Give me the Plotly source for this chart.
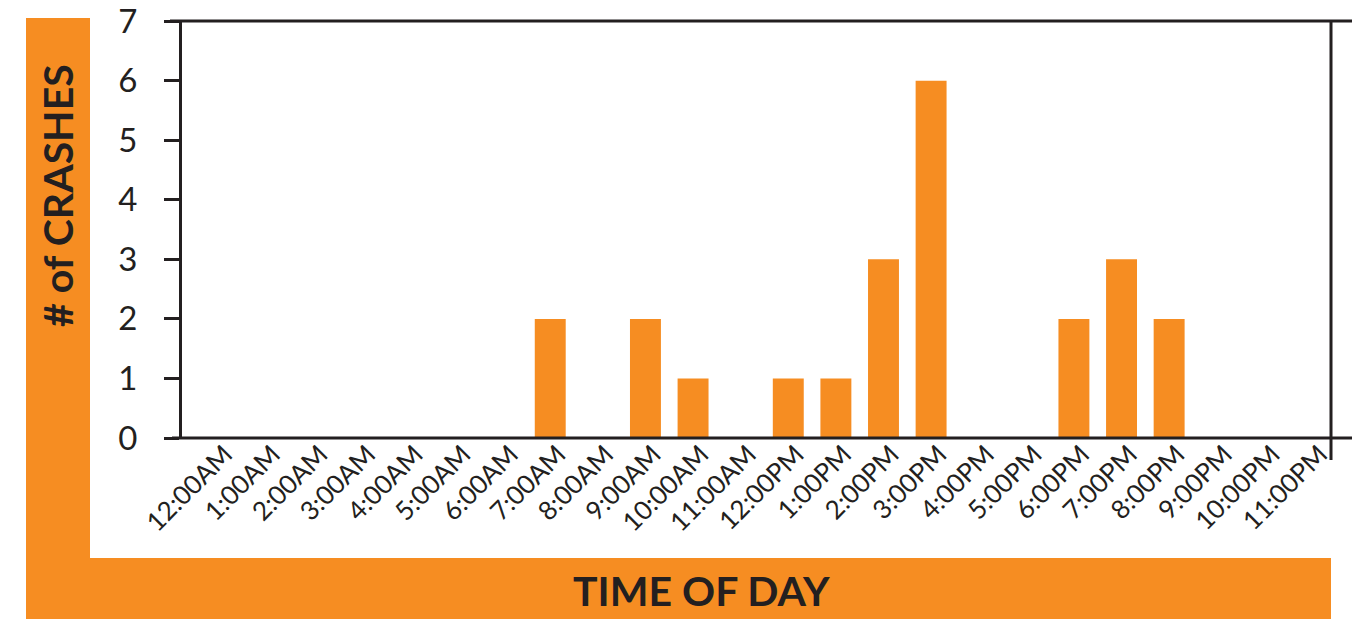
import plotly.graph_objects as go

# Hour-of-day categories and crash counts
hours = ["12:00AM", "1:00AM", "2:00AM", "3:00AM", "4:00AM", "5:00AM", "6:00AM",
         "7:00AM", "8:00AM", "9:00AM", "10:00AM", "11:00AM", "12:00PM", "1:00PM",
         "2:00PM", "3:00PM", "4:00PM", "5:00PM", "6:00PM", "7:00PM", "8:00PM",
         "9:00PM", "10:00PM", "11:00PM"]
crashes = [0, 0, 0, 0, 0, 0, 0, 2, 0, 2, 1, 0, 1, 1, 3, 6, 0, 0, 2, 3, 2, 0, 0, 0]
y_ticks = [0, 1, 2, 3, 4, 5, 6, 7]

ORANGE = "#F68D22"
INK = "#231F20"
FONT = "Lato"

W, H = 1365, 619
L, R, T, B = 182, 1331, 21, 438  # plot-area edges in pixels


def px(x):
    return (x - L) / (R - L)


def py(y):
    return (B - y) / (B - T)


fig = go.Figure(go.Bar(
    x=hours, y=crashes, width=0.65,
    marker=dict(color=ORANGE, line=dict(width=0)),
    hoverinfo="x+y",
))

shapes = [
    # orange L-shaped frame
    dict(type="rect", xref="paper", yref="paper", layer="below",
         x0=px(26), x1=px(90), y0=py(619), y1=py(18),
         fillcolor=ORANGE, line=dict(width=0)),
    dict(type="rect", xref="paper", yref="paper", layer="below",
         x0=px(26), x1=px(1331), y0=py(619), y1=py(558),
         fillcolor=ORANGE, line=dict(width=0)),
    # axis frame lines
    dict(type="line", xref="paper", yref="paper", x0=px(172), x1=px(1352),
         y0=0, y1=0, line=dict(color=INK, width=3)),
    dict(type="line", xref="paper", yref="paper", x0=px(170), x1=px(1352),
         y0=1, y1=1, line=dict(color=INK, width=3)),
    dict(type="line", xref="paper", yref="paper", x0=1, x1=1,
         y0=py(460), y1=1, line=dict(color=INK, width=3)),
]

annotations = [
    dict(text="TIME OF DAY", xref="paper", yref="paper", x=px(701), y=py(590),
         showarrow=False, xanchor="center", yanchor="middle",
         font=dict(family=FONT, size=41, color=INK, weight="bold")),
    dict(text="# of CRASHES", xref="paper", yref="paper", x=px(57), y=py(196),
         showarrow=False, xanchor="center", yanchor="middle", textangle=-90,
         font=dict(family=FONT, size=41, color=INK, weight="bold")),
]

fig.update_layout(
    template="none",
    width=W, height=H, autosize=False,
    margin=dict(l=L, r=W - R, t=T, b=H - B, pad=0, autoexpand=False),
    paper_bgcolor="white", plot_bgcolor="white",
    showlegend=False, bargap=0.35,
    shapes=shapes, annotations=annotations,
    font=dict(family=FONT, color=INK),
)

fig.update_xaxes(
    type="category", range=[-0.735, 23.4], fixedrange=True, automargin=False,
    showgrid=False, zeroline=False, showline=False, ticks="",
    tickangle=-45, tickfont=dict(family=FONT, size=26, color=INK),
    ticklabelshift=8, ticklabelstandoff=-5,
)

fig.update_yaxes(
    range=[0, 7.003], tickvals=y_ticks, fixedrange=True, automargin=False,
    showgrid=False, zeroline=False,
    showline=True, linecolor=INK, linewidth=3,
    ticks="outside", ticklen=15, tickwidth=3, tickcolor=INK,
    tickfont=dict(family=FONT, size=33, color=INK),
    ticklabelstandoff=20, ticklabeloverflow="allow",
)

fig.write_html("out.html")
